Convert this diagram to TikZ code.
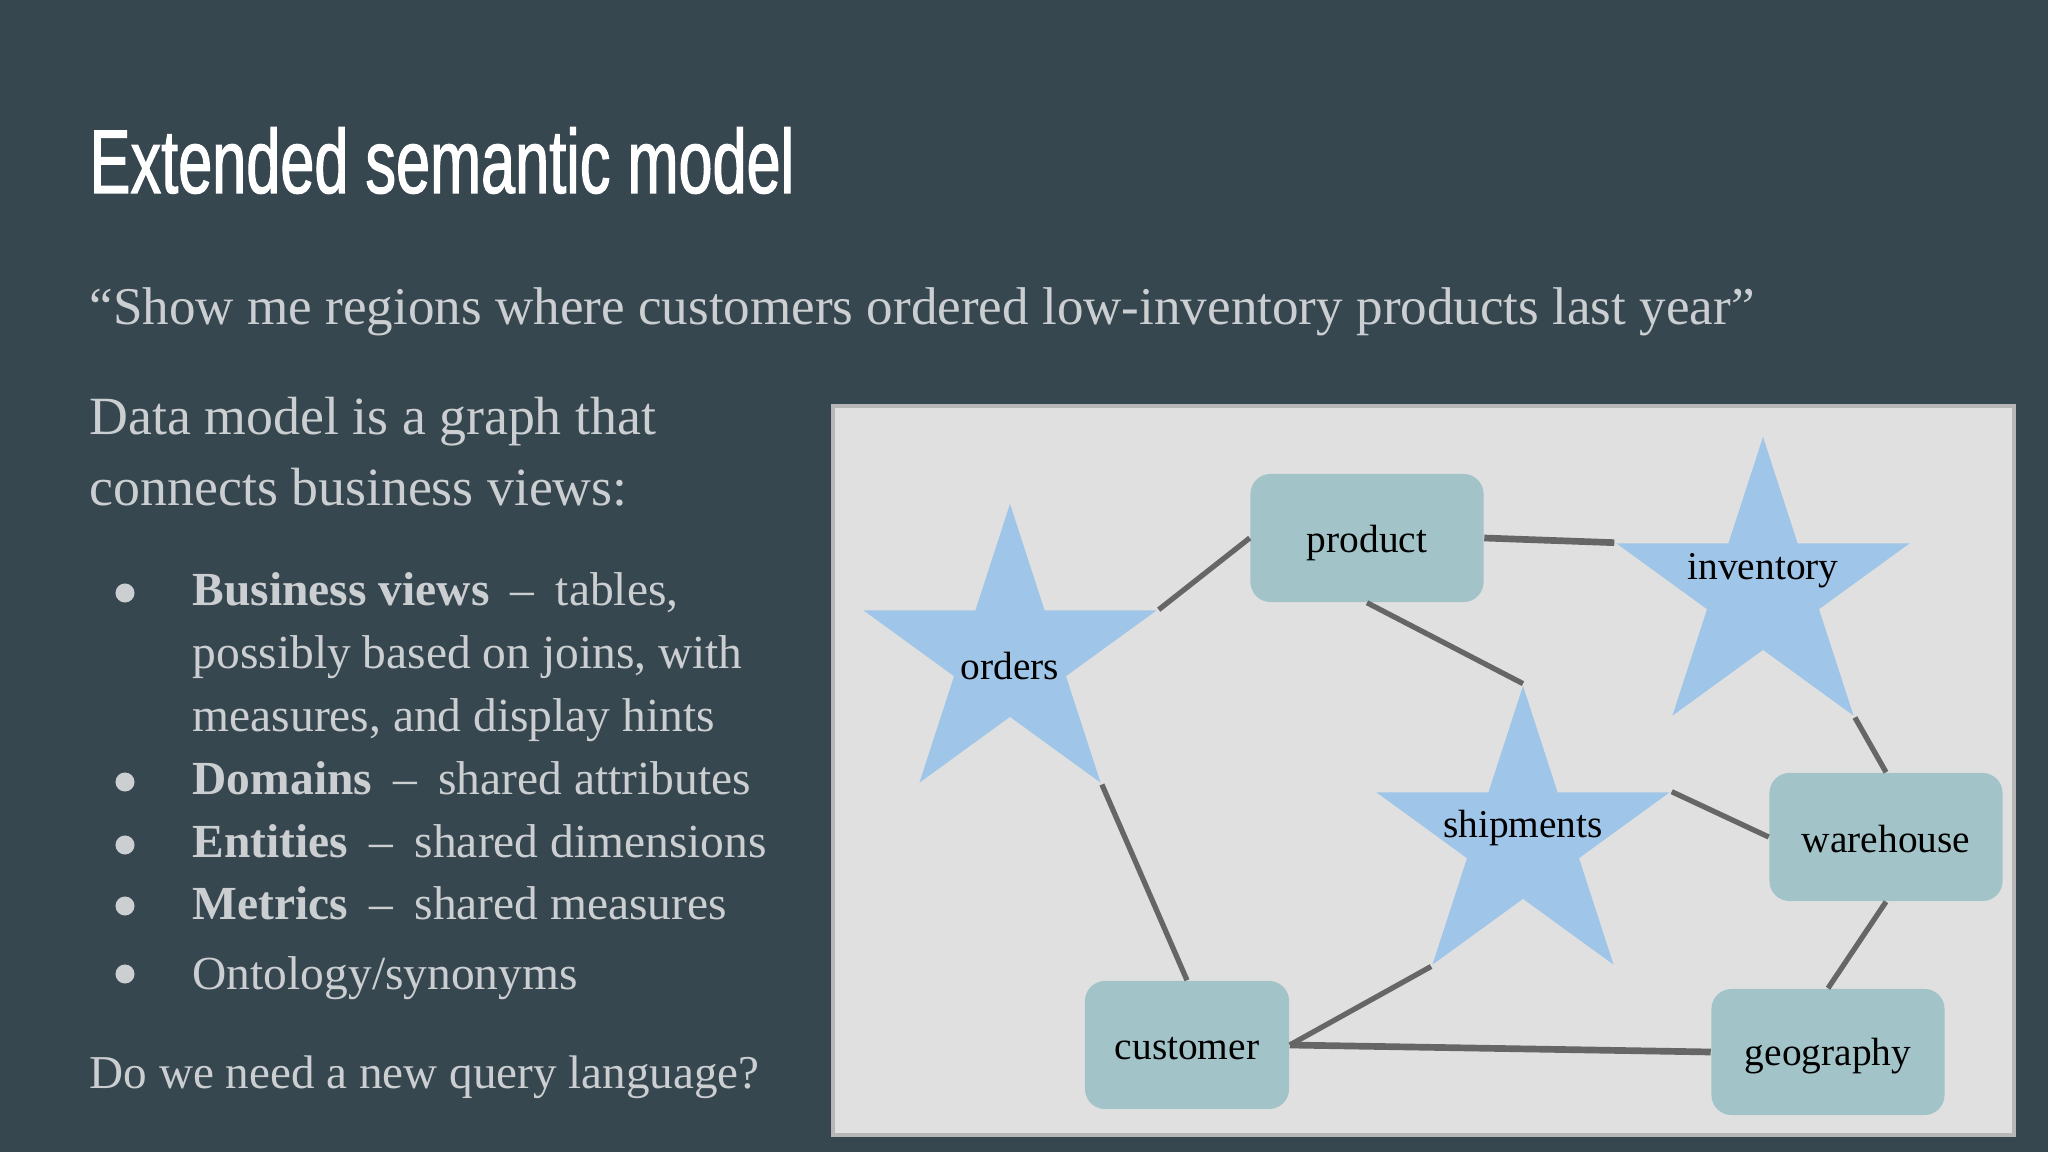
\documentclass[tikz,border=0pt]{standalone}
\usepackage{fontspec}
\setmainfont{Liberation Serif}
\newfontfamily\titlefont[FakeStretch=0.675,FakeBold=1.2]{Liberation Sans}
\usetikzlibrary{shapes.geometric}
\definecolor{bg}{HTML}{37474F}
\definecolor{bodyc}{RGB}{204,207,210}
\definecolor{panelc}{HTML}{E0E0E0}
\definecolor{panelb}{HTML}{B7B7B7}
\definecolor{boxc}{HTML}{A2C4C9}
\definecolor{starc}{HTML}{9FC5E8}
\definecolor{edgec}{HTML}{666666}
\newcommand{\dsep}{\hspace{0.45em}–\hspace{0.45em}}
\begin{document}
\begin{tikzpicture}[x=0.01cm,y=-0.01cm,
  txt/.style={anchor=base west, inner sep=0, text=bodyc, font=\fontsize{15.3}{18}\selectfont},
  btxt/.style={anchor=base west, inner sep=0, text=bodyc, font=\fontsize{13.5}{16}\selectfont},
  bul/.style={circle, fill=bodyc, inner sep=0, minimum size=0.19cm},
  box/.style={rectangle, rounded corners=0.2cm, fill=boxc, minimum width=2.33cm, minimum height=1.28cm, inner sep=0},
  starn/.style={star, star points=5, star point ratio=2.618, minimum size=3.08cm, inner sep=0, fill=starc},
  lbl/.style={font=\fontsize{11.2}{13}\selectfont, inner sep=0},
  edge/.style={draw=edgec, line width=1.5pt}]
\useasboundingbox (0,0) rectangle (2048,1152);
\fill[bg] (0,0) rectangle (2048,1152);
% title
\node[anchor=base west, inner sep=0, text=white, font=\titlefont\fontsize{25.8}{30}\selectfont] (title) at (89,193) {Extended semantic model};
% quote
\node[txt, font=\fontsize{15.1}{18}\selectfont] (quote) at (89,325) {“Show me regions where customers ordered low-inventory products last year”};
\node[txt] (intro1) at (89,435) {Data model is a graph that};
\node[txt] (intro2) at (89,505) {connects business views:};
% bullets
\node[bul] (b1) at (125,593) {};
\node[bul] (b2) at (125,782) {};
\node[bul] (b3) at (125,845) {};
\node[bul] (b4) at (125,906) {};
\node[bul] (b5) at (125,974) {};
\node[btxt] (t1a) at (192,606) {\textbf{Business views}\dsep tables,};
\node[btxt] (t1b) at (192,669) {possibly based on joins, with};
\node[btxt] (t1c) at (192,731) {measures, and display hints};
\node[btxt] (t2) at (192,794) {\textbf{Domains}\dsep shared attributes};
\node[btxt] (t3) at (192,857) {\textbf{Entities}\dsep shared dimensions};
\node[btxt] (t4) at (192,919) {\textbf{Metrics}\dsep shared measures};
\node[btxt] (t5) at (192,989) {Ontology/synonyms};
\node[txt, font=\fontsize{13.4}{16}\selectfont] (outro) at (89,1088) {Do we need a new query language?};
% panel
\draw[panelb, line width=1pt, fill=panelc] (833,406) rectangle (2014,1135);
% stars
\node[starn] (orders) at (1010,658) {};
\node[starn] (inventory) at (1763,591) {};
\node[starn] (shipments) at (1523,840) {};
\node[lbl] (ordersl) at (1010,666) {orders};
\node[lbl] (inventoryl) at (1763,571) {inventory};
\node[lbl] (shipmentsl) at (1523,828) {shipments};
% boxes
\node[box] (product) at (1367,538) {};
\node[box] (warehouse) at (1886,837) {};
\node[box, minimum width=2.04cm] (customer) at (1187,1045) {};
\node[box, minimum height=1.26cm] (geography) at (1828,1052) {};
\node[lbl] (productl) at (1367,543) {product};
\node[lbl] (warehousel) at (1886,839) {warehouse};
\node[lbl] (customerl) at (1187,1049) {customer};
\node[lbl] (geographyl) at (1828,1056) {geography};
% edges
\draw[edge] (orders.outer point 5) -- (product.west);
\draw[edge, line width=1.9pt] (product.east) -- (inventory.outer point 2);
\draw[edge] (product.south) -- (shipments.outer point 1);
\draw[edge] (inventory.outer point 4) -- (warehouse.north);
\draw[edge] (shipments.outer point 5) -- (warehouse.west);
\draw[edge] (warehouse.south) -- (geography.north);
\draw[edge] (orders.outer point 4) -- (customer.north);
\draw[edge] (shipments.outer point 3) -- (customer.east);
\draw[edge, line width=1.9pt] (customer.east) -- (geography.west);
\end{tikzpicture}
\end{document}
